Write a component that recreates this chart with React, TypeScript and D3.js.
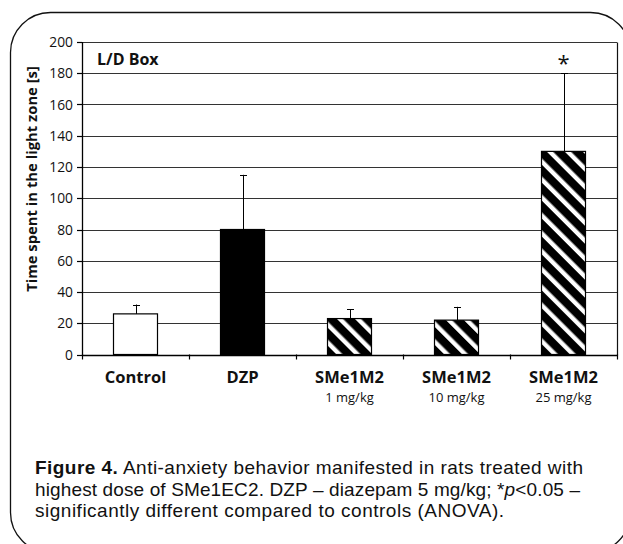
import React from "react";
import * as d3 from "d3";

const groupIds = ["control", "dzp", "sme1", "sme10", "sme25"];
const groupNames = ["Control", "DZP", "SMe1M2", "SMe1M2", "SMe1M2"];
const doseLabels = ["", "", "1 mg/kg", "10 mg/kg", "25 mg/kg"];
const meanValues = [26, 80, 23, 22, 130];
const errorTops = [32, 115, 29, 30.5, 180];
const significant = [false, false, false, false, true];
const yTicks = [0, 20, 40, 60, 80, 100, 120, 140, 160, 180, 200];

const FONT = "'Open Sans', 'Noto Sans', sans-serif";
const CAPTION_FONT = "'Liberation Sans', Arial, sans-serif";
const W = 623;
const H = 544;

export default function App() {
  const x = d3.scaleBand<string>().domain(groupIds).range([82, 617]).padding(0);
  const y = d3.scaleLinear().domain([0, 200]).range([354.5, 42]);
  const barW = 44;
  const fills = ["white", "black", "url(#hatch)", "url(#hatch)", "url(#hatch)"];
  const cx = (i: number) => (x(groupIds[i]) as number) + x.bandwidth() / 2;
  const bandEdges = groupIds.map((g) => x(g) as number).concat([617]);

  return (
    <svg
      width={W}
      height={H}
      style={{ position: "absolute", left: 0, top: 0, display: "block" }}
      fontFamily={FONT}
    >
      <defs>
        <pattern
          id="hatch"
          patternUnits="userSpaceOnUse"
          width={12.7}
          height={12.7}
          patternTransform="rotate(-45)"
        >
          <rect width={12.7} height={12.7} fill="black" />
          <rect x={0} width={4.4} height={12.7} fill="white" />
        </pattern>
      </defs>
      <rect width={W} height={H} fill="white" />
      <rect x={10.5} y={12.5} width={620} height={540} rx={40} ry={40} fill="none" stroke="#111" strokeWidth={1.3} />

      {/* gridlines */}
      {yTicks.map((t) => (
        <line key={"g" + t} x1={82} x2={617} y1={Math.round(y(t)) + 0.5} y2={Math.round(y(t)) + 0.5} stroke="#333" strokeWidth={1} />
      ))}
      <line x1={617.5} x2={617.5} y1={Math.round(y(200)) + 0.5} y2={Math.round(y(0)) + 0.5} stroke="#111" strokeWidth={1.2} />

      {/* bars */}
      {meanValues.map((v, i) => (
        <rect
          key={"b" + i}
          x={cx(i) - barW / 2}
          y={y(v)}
          width={barW}
          height={y(0) - y(v)}
          fill={fills[i]}
          stroke="black"
          strokeWidth={1.2}
        />
      ))}

      {/* error bars */}
      {meanValues.map((v, i) => (
        <g key={"e" + i} stroke="black" strokeWidth={1}>
          <line x1={Math.round(cx(i)) + 0.5} x2={Math.round(cx(i)) + 0.5} y1={y(v)} y2={y(errorTops[i])} />
          <line x1={Math.round(cx(i)) - 3} x2={Math.round(cx(i)) + 4} y1={Math.round(y(errorTops[i])) + 0.5} y2={Math.round(y(errorTops[i])) + 0.5} />
        </g>
      ))}

      {/* significance */}
      {significant.map((s, i) =>
        s ? (
          <text key={"s" + i} x={cx(i)} y={y(errorTops[i]) - 2} textAnchor="middle" fontSize={22} fill="#111">
            *
          </text>
        ) : null
      )}

      {/* y axis */}
      <line x1={82.5} x2={82.5} y1={y(200)} y2={y(0) + 0.5} stroke="black" strokeWidth={1.3} />
      {yTicks.map((t) => (
        <g key={"yt" + t}>
          <line x1={77} x2={82} y1={Math.round(y(t)) + 0.5} y2={Math.round(y(t)) + 0.5} stroke="black" strokeWidth={1.2} />
          <text x={73} y={y(t) + 5} textAnchor="end" fontSize={13.8} fill="#111">
            {t}
          </text>
        </g>
      ))}

      {/* x axis */}
      <line x1={82} x2={617.5} y1={Math.round(y(0)) + 0.5} y2={Math.round(y(0)) + 0.5} stroke="black" strokeWidth={1.3} />
      {bandEdges.map((e, i) => (
        <line key={"xt" + i} x1={Math.round(e) + 0.5} x2={Math.round(e) + 0.5} y1={y(0)} y2={y(0) + 5} stroke="black" strokeWidth={1.2} />
      ))}
      {groupNames.map((n, i) => (
        <g key={"xl" + i}>
          <text x={cx(i)} y={383} textAnchor="middle" fontSize={16.5} fontWeight="bold" fill="#111">
            {n}
          </text>
          {doseLabels[i] ? (
            <text x={cx(i)} y={402} textAnchor="middle" fontSize={13} fill="#111">
              {doseLabels[i]}
            </text>
          ) : null}
        </g>
      ))}

      {/* y title */}
      <text
        transform="translate(36.5,179) rotate(-90)"
        textAnchor="middle"
        fontSize={14.8}
        fontWeight="bold"
        fill="#111"
      >
        Time spent in the light zone [s]
      </text>

      <text x={97} y={65} fontSize={16} fontWeight="bold" fill="#111">
        L/D Box
      </text>

      {/* caption */}
      <g fontSize={19} fill="#111" fontFamily={CAPTION_FONT}>
        <text x={35} y={474} textLength={548} lengthAdjust="spacing">
          <tspan fontWeight="bold">Figure 4.</tspan> Anti-anxiety behavior manifested in rats treated with
        </text>
        <text x={35} y={495.5} textLength={545} lengthAdjust="spacing">
          highest dose of SMe1EC2. DZP – diazepam 5 mg/kg; *<tspan fontStyle="italic">p</tspan>&lt;0.05 –
        </text>
        <text x={35} y={517} textLength={469} lengthAdjust="spacing">
          significantly different compared to controls (ANOVA).
        </text>
      </g>
    </svg>
  );
}
